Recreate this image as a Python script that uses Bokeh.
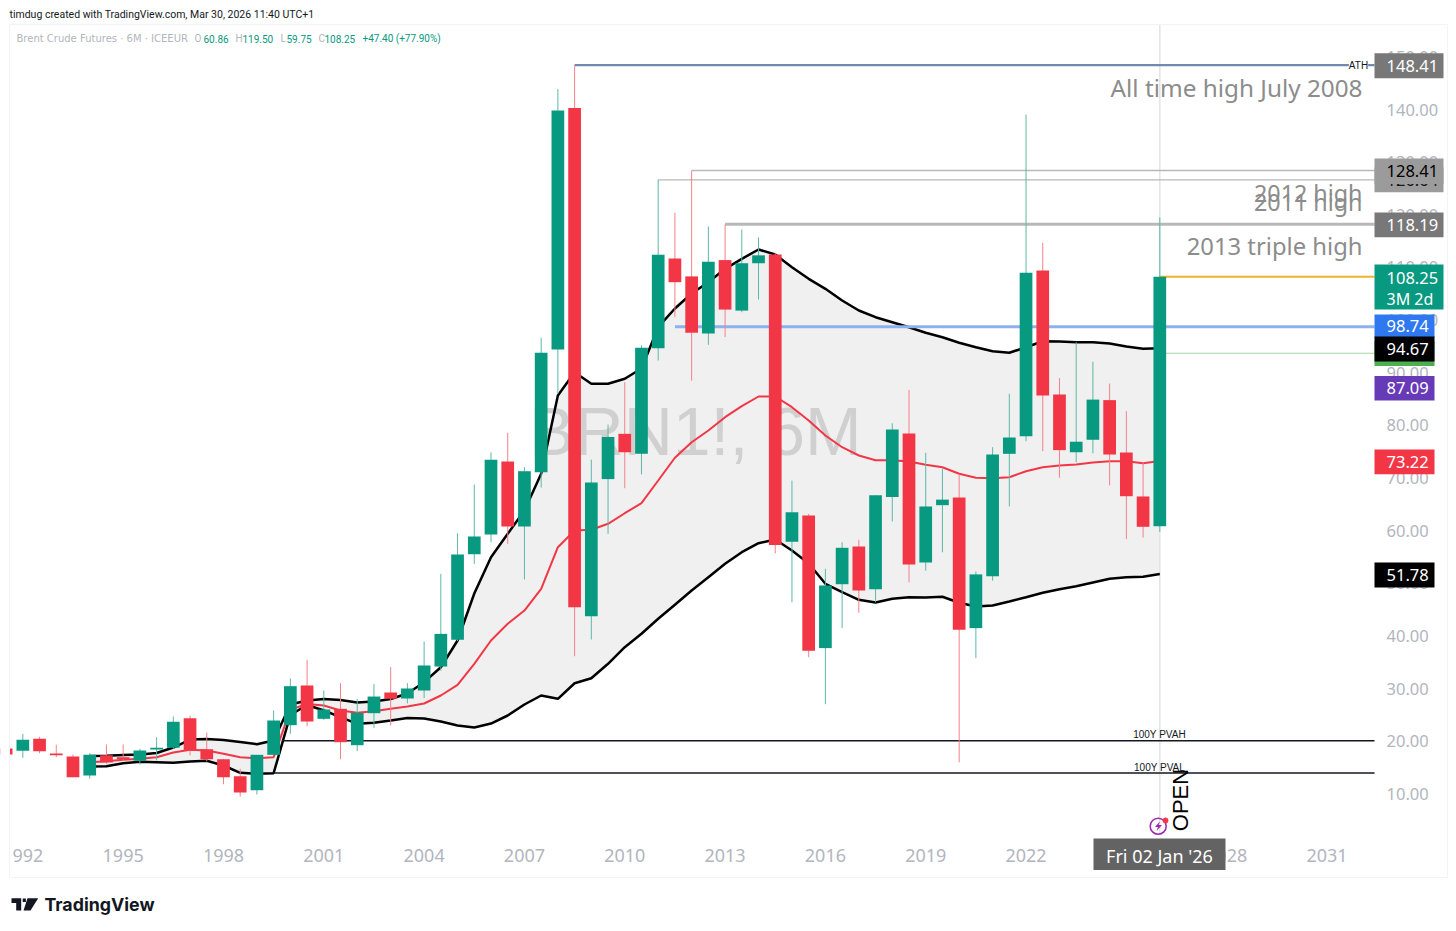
from bokeh.plotting import figure
from bokeh.models import (Label, BoxAnnotation, PolyAnnotation, FixedTicker,
                          Range1d, ColumnDataSource)
from bokeh.core.properties import value
from bokeh.embed import file_html
from bokeh.resources import INLINE
import math

# ---- data ----------------------------------------------------------------
candle_years = [1991.5 + 0.5 * i for i in range(70)]
opens = [18.63,18.19,20.47,17.68,17.11,13.50,17.36,16.98,16.30,18.45,18.76,24.39,18.50,16.60,13.37,10.71,17.43,23.06,30.60,24.27,
         26.17,19.26,25.34,29.27,28.13,29.65,34.20,39.28,55.53,59.28,73.14,60.80,71.10,94.40,140.30,43.76,69.80,78.40,74.60,94.66,
         111.70,108.30,97.45,111.40,101.80,110.80,112.46,57.90,62.90,37.70,49.84,57.00,48.90,66.40,78.47,53.96,64.85,66.30,41.50,51.35,
         74.60,77.95,109.40,85.87,74.90,77.27,84.80,74.85,66.50,60.86]
highs = [18.80,21.42,20.85,19.33,17.49,17.74,19.39,19.39,18.57,20.78,24.71,24.90,21.67,16.60,14.78,17.43,25.85,31.93,35.48,29.65,
         31.04,28.07,30.90,34.07,31.04,38.96,51.80,59.50,68.78,74.90,78.60,72.06,96.65,143.90,148.41,73.50,80.17,88.20,95.20,126.64,
         120.40,128.41,117.80,118.19,117.20,115.70,112.80,69.50,63.20,52.76,57.80,58.27,66.75,80.40,86.75,74.80,71.75,70.70,52.25,75.86,
         86.00,139.05,114.70,89.00,95.80,92.10,87.95,82.70,73.00,119.50]
lows = [17.30,16.86,17.74,16.98,13.18,12.88,15.73,16.22,15.60,16.35,18.57,17.30,16.22,11.85,9.52,9.90,17.43,21.42,22.87,24.08,
        16.60,18.12,22.56,23.00,27.20,28.19,33.40,39.00,53.70,57.80,57.50,50.73,68.20,86.00,36.16,39.33,59.40,68.07,70.70,92.33,
        100.55,88.50,95.30,96.75,101.50,103.90,55.70,46.40,35.97,27.05,41.50,44.40,46.40,61.75,50.20,52.40,55.90,16.00,35.80,50.50,
        64.60,77.00,75.10,70.05,73.00,74.70,68.60,58.40,58.70,59.75]
closes = [17.49,20.28,18.12,17.36,13.18,17.43,15.97,16.60,18.25,18.76,23.70,18.25,16.60,13.18,10.28,17.43,23.95,30.47,23.76,26.04,
          19.83,25.41,28.50,28.07,30.03,34.40,40.40,55.48,58.90,73.47,60.80,71.30,93.80,139.80,45.47,69.16,77.80,74.90,94.74,112.40,
          107.20,97.60,111.10,102.00,110.80,112.30,57.30,63.50,37.20,49.60,56.75,48.64,66.75,79.20,53.60,64.60,65.90,41.20,51.70,74.47,
          77.70,109.00,85.70,75.30,76.90,84.90,74.47,66.55,60.74,108.25]

band_years = [1994.0 + 0.5 * i for i in range(65)]
band_upper = [17.20,17.25,17.40,17.49,17.78,18.82,20.34,20.44,20.25,19.87,19.45,20.15,27.00,27.75,28.03,27.84,27.37,27.56,28.03,
              29.08,31.23,34.07,39.15,48.07,54.97,59.41,63.84,70.81,85.68,90.10,87.90,87.90,88.85,90.81,98.65,102.20,105.05,
              107.20,109.74,111.64,113.41,112.46,110.05,107.84,105.94,103.72,101.82,100.55,99.60,98.65,97.59,96.75,95.69,94.85,
              94.09,93.79,94.85,95.99,95.93,95.80,95.80,95.56,94.98,94.55,94.67]
band_mid = [16.00,16.22,16.49,16.68,16.98,17.87,18.39,18.25,17.63,16.98,16.79,16.98,26.00,27.10,26.80,25.85,25.41,25.72,26.17,
            26.61,27.18,28.70,30.73,34.72,39.15,42.32,44.84,48.97,56.87,60.04,60.17,61.31,63.32,65.22,69.53,73.85,76.81,
            79.03,81.56,83.65,85.49,85.49,83.46,80.93,78.08,75.86,74.28,73.39,73.39,73.14,72.52,72.06,70.81,70.05,
            69.97,70.16,71.30,72.06,72.38,72.57,72.95,73.20,73.20,72.82,73.22]
band_lower = [15.20,15.27,15.84,16.11,16.03,15.92,16.16,16.30,15.40,14.02,13.83,13.94,25.00,26.90,25.85,24.58,23.32,23.51,23.95,
              24.43,24.33,23.76,23.00,22.62,23.38,24.90,26.99,28.70,28.07,31.03,31.98,34.72,37.87,40.42,43.27,45.93,48.64,
              51.17,53.71,55.92,57.63,58.33,56.24,53.77,49.91,48.32,46.88,46.36,47.07,47.37,47.31,47.45,46.31,45.60,
              45.79,46.55,47.37,48.20,48.89,49.46,50.16,50.86,51.17,51.24,51.78]

price_ticks = [10,20,30,40,50,60,70,80,90,100,110,120,130,140,150]
year_ticks = [1992,1995,1998,2001,2004,2007,2010,2013,2016,2019,2022,2028,2031]

# horizontal levels: price, first year, colour, width
level_price = [148.41, 128.41, 126.64, 118.19, 108.25, 98.74, 93.70]
level_start = [2008.5, 2012.0, 2011.0, 2013.0, 2026.0, 2011.5, 2026.0]
level_color = ["#6f8bb0", "#b8b8b8", "#b8b8b8", "#b8b8b8", "#f0b429", "#8fb0ee", "#a5d6a7"]
level_width = [2.2, 1.5, 1.2, 3, 2, 3, 1.2]
pv_price = [20.09, 13.96]
pv_start = [1999.75, 1999.5]

UP, DOWN = "#089981", "#f23645"
UP_W, DOWN_W = "#5cb8a8", "#f4808a"
FONT = "Noto Sans"

# geometry: the frame fills the canvas, the axes are fixed inside it
PANE_L, PANE_R, PANE_T, PANE_B = 9, 1374, 24, 834
W, H = 1450, 926
x0, x1 = 2026 - (1159.3 - PANE_L) / 33.44, 2026 + (PANE_R - 1159.3) / 33.44
y0, y1 = (846.1 - PANE_B) / 5.265, (846.1 - PANE_T) / 5.265

p = figure(width=W, height=H, output_backend="svg", toolbar_location=None,
           x_range=Range1d(2026 - 1159.3 / 33.44, 2026 + (W - 1159.3) / 33.44),
           y_range=Range1d((846.1 - H) / 5.265, 846.1 / 5.265),
           y_axis_location="right", min_border=0)
p.outline_line_color = None
p.grid.visible = False
p.background_fill_color = "white"

for ax, ticks in ((p.yaxis[0], price_ticks), (p.xaxis[0], year_ticks)):
    ax.ticker = FixedTicker(ticks=ticks)
    ax.axis_line_color = None
    ax.major_tick_line_color = None
    ax.minor_tick_line_color = None
    ax.major_label_text_color = "#b2b5be"
    ax.major_label_text_font = FONT
p.yaxis[0].fixed_location = x1
p.xaxis[0].fixed_location = y0
p.yaxis[0].major_label_overrides = {t: f"{t:.2f}" for t in price_ticks}
p.xaxis[0].major_label_overrides = {t: str(t) for t in year_ticks}
p.yaxis[0].major_label_text_font_size = "16.5px"
p.xaxis[0].major_label_text_font_size = "18px"
p.yaxis[0].major_label_standoff = 6
p.xaxis[0].major_label_standoff = 8

def sx(px): return px
def sy(py): return H - py

# bands
p.varea(band_years, band_lower, band_upper, fill_color="#f0f0f0")
# watermark
p.text([2026 - (1159.3 - 695) / 33.44], [(846.1 - 430) / 5.265], ["BRN1!, 6M"], text_align="center",
       text_baseline="middle", text_color="#d0d0d0", text_font=value("Liberation Sans"), text_font_size="68px")
# cross-hair
p.segment([2026.0], [y0], [2026.0], [y1], line_color="#e4e4e4", line_width=1.5)
p.line(band_years, band_upper, line_color="black", line_width=2.5)
p.line(band_years, band_lower, line_color="black", line_width=2.5)
p.line(band_years, band_mid, line_color=DOWN, line_width=2)

# levels
p.segment(level_start, level_price, [x1] * len(level_price), level_price,
          line_color=level_color, line_width=level_width)
p.segment(pv_start, pv_price, [x1, x1], pv_price, line_color="#131722", line_width=1.5)

# candles
cols = [UP if c >= o else DOWN for o, c in zip(opens, closes)]
wick = [UP_W if c >= o else DOWN_W for o, c in zip(opens, closes)]
src = ColumnDataSource(dict(x=candle_years, o=opens, h=highs, l=lows, c=closes, col=cols, wick=wick))
p.segment("x", "h", "x", "l", source=src, line_color="wick", line_width=1)
p.vbar("x", 0.38, "o", "c", source=src, fill_color="col", line_color="col", line_width=0)

def txt(px, py, s, size, color, font=FONT, align="left", angle=0, style="normal", **kw):
    p.add_layout(Label(x=sx(px), y=sy(py), x_units="screen", y_units="screen", text=s,
                       text_font=font, text_font_size=f"{size}px", text_color=color,
                       text_align=align, text_baseline="middle", angle=angle,
                       text_font_style=style, **kw))

def box(l, r, t, b, fill=None, line=None):
    p.add_layout(BoxAnnotation(left=sx(l), right=sx(r), top=sy(t), bottom=sy(b),
                               left_units="screen", right_units="screen", top_units="screen",
                               bottom_units="screen", fill_color=fill, fill_alpha=1 if fill else 0,
                               line_color=line, line_alpha=1 if line else 0, line_width=1))

# left of the pane, and the hidden first digit of the first year label
box(0, PANE_L, PANE_T, PANE_B, fill="white")
box(0, 10.5, 836, 872, fill="white")
# pane border
box(PANE_L, 1447, PANE_T, 877, line="#f0f3fa")

# annotations in the pane
GREY = "#8c8c8c"
txt(1362, 87, "All time high July 2008", 24.3, GREY, align="right")
txt(1362, 192, "2012 high", 23.3, GREY, align="right")
txt(1362, 201, "2011 high", 23.3, GREY, align="right")
txt(1362, 245, "2013 triple high", 23.8, GREY, align="right")
txt(1358, 65, "ATH", 10, "#131722", font="Liberation Sans", align="center",
    background_fill_color="white")
txt(1159, 734, "100Y PVAH", 10, "#131722", font="Liberation Sans", align="center")
txt(1159, 767, "100Y PVAL", 10, "#131722", font="Liberation Sans", align="center")
txt(1180, 799.5, "OPEN", 22, "black", font="Liberation Sans", align="center", angle=math.pi / 2)

# price tags
TAGS = [
    (1374, 1443, 52.7, 77.7, "#787878", "148.41", "white"),
    (1374, 1443, 167, 191.7, "#9b9b9b", "126.64", "#131722"),
    (1374, 1443, 158, 183.5, "#9b9b9b", "128.41", "black"),
    (1374, 1443, 212, 236.7, "#787878", "118.19", "white"),
    (1374, 1443, 264, 309, "#089981", "108.25", "white"),
    (1374, 1434, 340.5, 365.5, "#4caf50", "", "white"),
    (1374, 1434, 314, 337, "#2f78f0", "98.74", "white"),
    (1374, 1434, 336, 361, "black", "94.67", "white"),
    (1374, 1434, 375.5, 400, "#673ab7", "87.09", "white"),
    (1374, 1434, 449, 473.7, "#f23645", "73.22", "white"),
    (1374, 1434, 562, 587, "black", "51.78", "white"),
]
for l, r, t, b, fill, s, tc in TAGS:
    box(l, r, t, b, fill=fill)
    if s:
        cy = (t + b) / 2 if s != "108.25" else 277
        txt(1386, cy, s, 16.5, tc)
txt(1386, 298, "3M 2d", 16, "white")

# date tag
box(1093, 1225, 838, 869.5, fill="#636363")
txt(1159, 855, "Fri 02 Jan '26", 18, "white", align="center")

# event marker
p.scatter([2026 - 1.6 / 33.44], [(846.1 - 825.7) / 5.265], size=16, marker="circle",
          fill_color="white", fill_alpha=0, line_color="#9c27b0", line_width=1.5)
p.add_layout(PolyAnnotation(xs=[sx(v) for v in [1159.5, 1154.5, 1157.5, 1156, 1161.5, 1158.2]],
                            ys=[sy(v) for v in [820.8, 826.6, 826.6, 830.6, 824.6, 824.6]],
                            xs_units="screen", ys_units="screen", fill_color="#9c27b0", fill_alpha=1,
                            line_alpha=0))
p.scatter([2026 + 5.7 / 33.44], [(846.1 - 820) / 5.265], size=5, marker="circle",
          fill_color="#f23645", line_color="#f23645")

# header
txt(9, 14, "timdug created with TradingView.com, Mar 30, 2026 11:40 UTC+1", 10.5, "#131722", font="Roboto")
txt(16, 38, "Brent Crude Futures · 6M · ICEEUR", 10, "#b2b5be", font="DejaVu Sans")
for px, s, c in [(194, "O", "#b2b5be"), (203, "60.86", UP), (235, "H", "#b2b5be"), (242, "119.50", UP),
                 (280, "L", "#b2b5be"), (286, "59.75", UP), (318, "C", "#b2b5be"), (324, "108.25", UP),
                 (362, "+47.40 (+77.90%)", UP)]:
    txt(px, 38, s, 10, c, font="Roboto")

# footer logo and name
INK = "#131722"
p.add_layout(PolyAnnotation(xs=[sx(v) for v in [11, 20.7, 20.7, 15.7, 15.7, 11]],
                            ys=[sy(v) for v in [897.7, 897.7, 910, 910, 902.5, 902.5]],
                            xs_units="screen", ys_units="screen", fill_color=INK, fill_alpha=1, line_alpha=0))
p.add_layout(PolyAnnotation(xs=[sx(v) for v in [27, 37.7, 30, 23]],
                            ys=[sy(v) for v in [897.7, 897.7, 910, 910]],
                            xs_units="screen", ys_units="screen", fill_color=INK, fill_alpha=1, line_alpha=0))
p.add_layout(PolyAnnotation(xs=[sx(v) for v in [22.2, 25.4, 25.4, 22.2]],
                            ys=[sy(v) for v in [898, 898, 901.5, 901.5]],
                            xs_units="screen", ys_units="screen", fill_color=INK, fill_alpha=1, line_alpha=0))
txt(44, 904, "TradingView", 17.8, INK, font="Inter", style="bold")

open("out.html", "w").write(file_html(p, INLINE))
